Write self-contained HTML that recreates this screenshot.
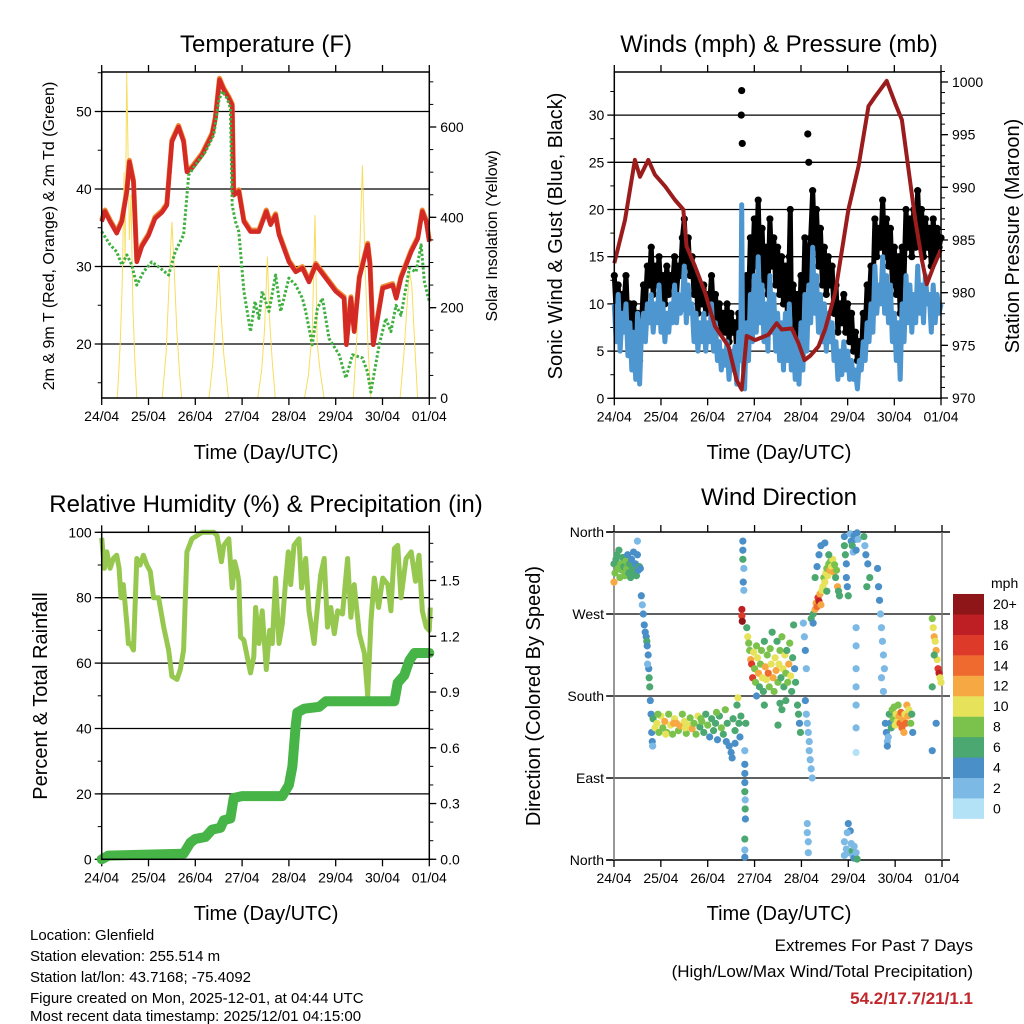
<!DOCTYPE html>
<html><head><meta charset="utf-8"><style>
html,body{margin:0;padding:0;background:#fff;}
svg{display:block;font-family:"Liberation Sans",Arial,sans-serif;}
</style></head><body>
<svg id="chart" width="1024" height="1024" viewBox="0 0 1024 1024" xmlns="http://www.w3.org/2000/svg">
<rect width="1024" height="1024" fill="#fff"/>
<text x="266" y="52" font-size="24" text-anchor="middle">Temperature (F)</text>
<text x="779" y="52" font-size="24" text-anchor="middle">Winds (mph) &amp; Pressure (mb)</text>
<text x="266" y="512" font-size="24" text-anchor="middle">Relative Humidity (%) &amp; Precipitation (in)</text>
<text x="779" y="505" font-size="24" text-anchor="middle">Wind Direction</text>
<text x="266" y="459" font-size="20" text-anchor="middle">Time (Day/UTC)</text>
<text x="779" y="459" font-size="20" text-anchor="middle">Time (Day/UTC)</text>
<text x="266" y="920" font-size="20" text-anchor="middle">Time (Day/UTC)</text>
<text x="779" y="920" font-size="20" text-anchor="middle">Time (Day/UTC)</text>
<text transform="translate(54,236) rotate(-90)" font-size="16" text-anchor="middle">2m &amp; 9m T (Red, Orange) &amp; 2m Td (Green)</text>
<text transform="translate(497,236) rotate(-90)" font-size="16" text-anchor="middle">Solar Insolation (Yellow)</text>
<text transform="translate(562,236) rotate(-90)" font-size="20" text-anchor="middle">Sonic Wind &amp; Gust (Blue, Black)</text>
<text transform="translate(1019,236) rotate(-90)" font-size="20" text-anchor="middle">Station Pressure (Maroon)</text>
<text transform="translate(47,696) rotate(-90)" font-size="20" text-anchor="middle">Percent &amp; Total Rainfall</text>
<text transform="translate(540,696) rotate(-90)" font-size="20" text-anchor="middle">Direction (Colored By Speed)</text>
<g font-size="15">
<text x="30" y="940">Location: Glenfield</text>
<text x="30" y="961">Station elevation: 255.514 m</text>
<text x="30" y="982">Station lat/lon: 43.7168; -75.4092</text>
<text x="30" y="1003">Figure created on Mon, 2025-12-01, at 04:44 UTC</text>
<text x="30" y="1024" dy="-3">Most recent data timestamp: 2025/12/01 04:15:00</text>
</g>
<g font-size="17" text-anchor="end">
<text x="973" y="951">Extremes For Past 7 Days</text>
<text x="973" y="977">(High/Low/Max Wind/Total Precipitation)</text>
<text x="973" y="1004" fill="#c0282d" font-weight="bold">54.2/17.7/21/1.1</text>
</g>
<g id="layer"></g>
</svg>
<script>
const dayLabels=["24/04","25/04","26/04","27/04","28/04","29/04","30/04","01/04"];
const tempRed=[[0,35.8],[1.7,37.1],[4.3,35.8],[7.7,34.3],[10.3,35.8],[12.9,39.7],[14.2,43.5],[16.3,40.9],[18,30.6],[20.6,32.6],[24,34],[27.4,36.2],[30.9,37],[33.4,37.9],[36,46.1],[39.4,48],[42,46.1],[43.7,42.2],[46.3,42.7],[51.5,44.4],[56.6,47],[58.3,49.1],[60.4,54.1],[62.6,52.8],[65.2,51.7],[66.9,50.8],[67.7,39.2],[70.3,39.7],[72.9,35.8],[76.3,34.5],[80.6,34.5],[84.4,37.1],[86.6,35.4],[89.2,36.6],[90.9,34.1],[96,30.6],[99.5,29.3],[102.9,29.8],[106.3,28],[109.8,30.2],[114.9,28.5],[120,26.8],[124.3,25.9],[125.5,19.9],[127.8,25.9],[129.5,21.6],[132.1,28.5],[136.4,32.8],[137.6,30.2],[139.3,19.9],[141.5,23.3],[144.1,27.2],[149.2,27.6],[151,25.9],[153.5,28.5],[158.7,31.9],[162.1,33.6],[164.4,37.1],[166.4,35.8],[168,33.2]];
const tempDew=[[0,34.5],[4.3,32.8],[7.7,31.9],[10.3,30.2],[12.9,31.5],[15.4,30.2],[18,27.6],[21.4,29.3],[25.7,30.6],[30,29.8],[34.3,28.9],[37.7,31.9],[42,34.1],[44.6,41.8],[48,43.1],[53.2,44.8],[57.5,47],[60,51.3],[61.7,52.6],[64.3,51.7],[66,50.4],[66.9,37.9],[68.6,35.8],[70.3,34.5],[72.9,26.8],[76.3,21.6],[78.6,25.5],[80.6,23.3],[82.3,26.8],[85.8,24.2],[89.2,28.9],[91.8,24.2],[96,28.5],[99.5,27.6],[102.9,25.9],[104.6,24.2],[108,19.9],[110.6,24.6],[113.2,25.9],[116.6,20.7],[121.8,18.6],[125.2,15.6],[128.6,18.6],[133.7,18.2],[136.3,16.4],[138,13.8],[142.3,19.9],[145.7,23.3],[148.3,21.6],[150.9,25],[153.5,23.7],[157.8,29.8],[161.2,29.3],[163.8,32.8],[165.5,28],[168,25.5]];
const solar=[[0,0],[8,0],[9.5,120],[10.5,250],[11.5,500],[12,300],[12.8,720],[13.5,550],[14.2,350],[15,450],[16,200],[17,80],[18,0],[31,0],[33,100],[34.5,250],[36,390],[37,300],[38.5,150],[40,50],[41,0],[55,0],[57,80],[58.5,180],[60,294],[61,200],[62.5,100],[64,40],[65,0],[80,0],[82,60],[83.5,150],[85,313],[86,180],[87.5,80],[89,0],[104,0],[106,50],[108,150],[109.4,405],[110.5,120],[112,60],[114,0],[129,0],[131,150],[132.5,350],[133.7,515],[135,300],[136.5,120],[138,0],[153,0],[155,100],[156.5,200],[157.8,280],[159,250],[160.5,120],[162,0],[168,0]];
const pressure=[[0,982.8],[5.5,986.9],[10.6,992.6],[13.2,991],[17.5,992.6],[20.9,991.2],[26.1,990.1],[31.2,988.8],[35.5,987.9],[37.2,984.4],[41.5,982.5],[46.7,980],[51.8,976.8],[58.7,974.9],[62.9,971.7],[65.5,970.8],[68.1,975.9],[72.4,975.5],[79.2,976],[83.5,977.1],[86.1,976.5],[91.3,976.6],[94.7,975.2],[97.8,973.6],[100.7,974],[105,974.9],[108.4,976.5],[113.6,980],[120.4,987.9],[125.6,992],[130.7,997.7],[134.1,998.6],[140.1,1000.1],[144.4,998],[147.9,996.4],[151.3,991.7],[154.8,986.9],[158.2,983.1],[160.7,980.8],[164.2,982.5],[168,984.1]];
const sonicWind=[10,6,11,5,9,7,10,4.5,8,3,7,2,9,1.5,7,9,6,10,8,11,7,10,8,12,7,10,6,9,7,10,8,12,8,11,9,10,14,8,12,9,10,6,9,5,8,6,9,5,8,6,10,5,8,4,6,3,5,3.5,6,2,5,3,5.5,1.5,7,4,5,1,8,4,11,6,13,7,15,8,12,6,10,5,13,7,11,5,9,4,8,3,9,4,10,3,7,2,6,1.5,8,3,11,5,12,8,16,9,13,7,11,6,10,5,9,6,8,4,6,2,5,2.5,6,3,5,2,4,2,3,1,4,3,6,4,8,6,10,7,14,9,12,10,15,9,13,8,12,6,9,4,8,2,10,6,13,8,12,7,11,8,14,9,12,8,13,10,11,7,12,8,11,9,10];
const sonicSpike=[[65.5,20.5]];
const gust=[[0,13],[1,9],[2,12],[3,8],[4,11],[5,10],[6,13],[7,8],[8,10],[9,7],[10,10],[11,6],[12,9],[13,4],[14,8],[15,12],[16,10],[17,14],[18,12],[19,16],[20,11],[21,14],[22,12],[23,15],[24,11],[25,13],[26,10],[27,14],[28,11],[29,13],[30,12],[31,15],[32,11],[33,14],[34,13],[35,17],[36,19],[37,14],[38,17],[39,13],[40,15],[41,11],[42,13],[43,9],[44,12],[45,10],[46,12],[47,9],[48,11],[49,10],[50,13],[51,9],[52,11],[53,8],[54,10],[55,7],[56,9],[57,7],[58,10],[59,6],[60,9],[61,7],[62,8],[63,5],[64,9],[65,8],[65.3,30],[65.5,32.6],[65.8,27],[66,8],[67,6],[68,13],[69,10],[70,17],[71,13],[72,19],[73,14],[74,21],[75,13],[76,18],[77,12],[78,16],[79,11],[80,19],[81,14],[82,17],[83,12],[84,16],[85,11],[86,15],[87,10],[88,14],[89,9],[90,15],[90.5,20],[91,10],[92,12],[93,7],[94,11],[95,6],[96,13],[97,8],[98,17],[99,12],[99.5,28],[100,25],[101,17],[102,22],[103,16],[104,20],[105,14],[106,18],[107,12],[108,16],[109,11],[110,15],[111,12],[112,14],[113,9],[114,12],[115,7],[116,10],[117,8],[118,11],[119,7],[120,10],[121,6],[122,9],[123,5],[124,7],[125,4],[126,6],[127,4],[128,9],[129,7],[130,12],[131,10],[132,14],[133,11],[134,19],[135,15],[136,18],[137,16],[138,21],[139,15],[140,19],[141,14],[142,18],[143,12],[144,16],[145,11],[146,15],[147,9],[148,16],[149,13],[150,20],[151,16],[152,19],[153,15],[154,20],[155,16],[156,22],[157,17],[158,20],[159,15],[160,19],[161,16],[162,18],[163,14],[164,19],[165,15],[166,18],[167,16],[168,17]];
const humidity=[[0,98.3],[1.4,89],[2.6,94],[4.3,89],[6,92],[7.7,93],[8.9,89],[9.9,80],[11.1,84],[12.9,72],[13.7,66],[14.6,66],[16.3,64],[18,92],[19.7,90],[21.4,93],[23.2,90],[24.9,88],[26.6,80],[29.2,80],[31.8,71],[34.3,64],[36,56],[38.6,55],[40.3,58],[42,64],[43.7,94],[46.3,98],[51.5,100],[57.5,100],[59.2,99],[61.4,91],[62.6,96],[65.2,98],[66.9,83],[68.2,91],[69.5,88],[70.3,85],[71.2,68],[72.9,67],[74.6,62],[76.3,57],[78,62],[78.9,77],[80.6,66],[82.3,76],[84.4,58],[86.1,70],[87.5,66],[89.2,86],[90.9,66],[92.6,72],[94.3,85],[95.7,94],[96.9,84],[98.6,96],[101.2,98],[102.5,83],[104.6,92],[106.3,76],[108.9,66],[110.6,77],[112.3,87],[114.1,92],[115.8,71],[117.5,77],[119.3,69],[121,76],[123.5,75],[126.1,92],[127.8,74],[129.5,84],[132.1,69],[134.7,63],[136.4,50],[138.1,73],[139.8,86],[142,77],[144.1,86],[146.7,84],[148.3,76],[150.1,95],[151.8,96],[153.5,80],[156.1,92],[158.7,94],[160.9,85],[162.7,93],[164.4,76],[166.4,71],[168,70],[168.5,77]];
const rainfall=[[0,0],[3.4,0.02],[42,0.03],[45.5,0.09],[48,0.11],[53.2,0.12],[56.6,0.16],[60.9,0.17],[62.6,0.21],[66,0.22],[67.7,0.33],[72,0.34],[92.6,0.34],[96,0.40],[97.8,0.50],[99.5,0.72],[100.3,0.79],[103.8,0.81],[111.5,0.82],[114.9,0.85],[123.5,0.85],[150.1,0.85],[151.8,0.95],[155.2,0.99],[157.8,1.07],[160.4,1.11],[168,1.11]];
const dirObs=[[0,325,7],[0.5,315,9],[1,330,7],[0,305,13],[1.5,335,6],[2,320,8],[2.5,340,7],[3,310,9],[3.5,325,8],[4,318,9],[4.5,332,7],[5,322,7],[5.5,312,8],[6,328,8],[6.5,320,9],[7,335,5],[7.5,315,7],[8,325,6],[8.5,310,7],[9,330,5],[9.5,320,7],[10,338,5],[10.5,316,7],[11,325,5],[11.5,312,6],[12,335,5],[12.5,318,5],[13,322,6],[13.5,320,5],[12,350,3],
[14,290,5],[14.5,280,3],[15,270,5],[15.5,258,5],[16,250,5],[16.5,245,5],[16.8,240,6],[17,235,5],[17.5,225,5],[17.8,210,5],[18,200,6],[18.3,190,6],[18.6,175,5],[19,160,5],[19.3,140,5],[19.6,130,4],[19.8,125,3],[17.2,215,3],
[20,155,6],[21,145,10],[22,150,11],[23,140,9],[24,158,10],[25,145,8],[26,152,12],[27,140,9],[28,160,8],[29,148,11],[30,138,8],[31,155,10],[32,150,12],[33,142,9],[34,147,13],[35,160,8],[36,152,10],[37,139,9],[38,148,11],[39,156,9],[40,144,12],[41,150,8],[42,138,9],[43,158,10],[44,146,7],[45,152,8],[46,140,6],[47,160,7],[48,148,8],[49,135,5],[50,155,7],[51,142,6],[52,150,7],[53,132,5],[54,158,6],[55,145,8],[56,138,6],[57,165,9],[58,150,7],[59,125,5],[60,118,4],[61,155,7],[62,142,6],[63,170,7],[63.5,178,10],[64,150,6],[64.5,135,5],[65,158,6],[62,128,4],[60.5,112,4],[57.5,130,5],[22.5,160,9],[26.5,138,10],[30.5,150,13],[36.5,145,11],[44.5,155,9],[52.5,162,8],
[65.5,275,19],[65.5,268,17],[65.7,262,20],[66,350,4],[66,340,4],[66,330,6],[66.2,305,4],[66.5,320,3],[66.5,296,3],[67,85,4],[67,75,6],[67.2,66,2],[67.2,56,6],[67.3,45,4],[67,23,6],[67,11,2],[67,3,4],[67.5,150,7],[67,120,2],[67,105,4],[67,95,4],
[68,255,7],[68.5,245,10],[69,238,8],[69.5,230,9],[70,220,12],[70.5,215,16],[71,200,17],[71.5,228,11],[72,210,9],[72.5,195,8],[73,235,8],[73.5,222,10],[74,205,12],[74.5,190,7],[75,215,9],[75.5,230,8],[76,200,11],[76.5,185,6],[77,240,7],[77.5,212,13],[78,198,10],[78.5,225,8],[79,205,14],[79.5,190,9],[80,232,9],[80.5,215,11],[81,250,6],[81.5,200,12],[82,185,8],[82.5,222,10],[83,208,13],[83.5,240,7],[84,195,9],[84.5,215,11],[85,230,8],[85.5,200,7],[86,245,8],[86.5,210,10],[87,190,6],[87.5,225,11],[88,205,9],[88.5,230,7],[89,195,8],[89.5,215,12],[90,238,8],[90.5,202,10],[91,185,7],[91.5,222,6],[92,258,7],[92.5,210,5],[93,195,6],[94,170,6],[94.5,160,7],[95,150,5],[95.5,140,7],[86,165,6],[84,148,6],[85,172,7],[88,175,7],[77,170,6],[73,180,4],
[97,260,3],[97.5,245,3],[98,230,4],[98.5,210,3],[98,175,4],[98.5,160,2],[99,150,3],[99.5,140,2],[100,130,3],[100,120,3],[100.5,110,2],[101,100,2],[101.5,90,2],[99,40,3],[99,30,3],[99.5,20,2],[99.5,8,3],
[101,265,6],[102,270,7],[103,275,12],[103.5,282,13],[104,278,14],[104.5,288,16],[105,284,18],[105.5,292,13],[106,280,12],[106.5,296,10],[107,300,11],[107.5,310,8],[108,305,10],[108.5,315,11],[109,320,9],[109.5,312,10],[110,325,8],[110.5,318,12],[111,328,9],[111.5,322,11],[112,330,10],[112.5,316,12],[113,324,8],[113.5,310,7],[114,318,8],[114.5,300,13],[115,295,7],[115.5,290,7],[110,335,7],[108,348,4],[106,345,4],[105,335,5],[104,322,4],[103,310,7],[109,295,6],[102,260,5],
[118,355,4],[118,345,6],[118.5,335,6],[119,325,5],[119,310,4],[119.5,300,5],[120,290,6],[121,358,3],[121.5,350,4],[122,345,6],[122.5,338,3],[123,356,4],[123.5,352,5],[124,340,4],[124.5,359,4],[125,352,3],[118,20,2],[118,5,3],[119,12,2],[120,8,3],[120,40,4],[121,32,4],[121.5,18,3],[122,10,6],[122.5,4,2],[123,15,3],[123,2,4],[124,8,3],[124.5,1,6],[119.5,30,3],
[124,255,3],[124,235,3],[124,210,3],[124,190,2],[124,170,2],[124,145,2],[124,118,1],
[128,355,6],[128.5,345,3],[129,335,4],[130,325,5],[131,310,6],[129.5,300,6],
[135,320,4],[135.5,300,4],[136,285,4],[136.5,270,3],[137,255,3],[137.5,240,3],[138,225,2],[138.5,210,2],[137,200,3],[138,185,2],
[139,150,4],[139.5,140,4],[140,130,3],[140,125,4],[141,160,6],[141.5,150,4],[142,145,7],[142.5,165,8],[143,155,9],[143.5,168,8],[144,148,10],[144.5,160,11],[145,152,10],[145.5,170,9],[146,158,13],[146.5,150,14],[147,162,15],[147.5,145,14],[148,155,12],[148.5,140,13],[149,160,11],[149.5,150,14],[150,170,12],[150.5,158,13],[151,165,10],[152,150,8],[152.5,160,7],[153,140,5],[140.5,135,3],
[163,265,8],[163.5,255,10],[164,245,12],[164.5,240,11],[165,230,12],[165.5,220,10],[166,210,16],[166.5,205,18],[167,200,10],[167.5,195,11],[164,225,6],[163,190,7],[163,120,4],[165,150,4]];
const speedColors=["#b3e2f7","#7cb9e4","#4a8fc7","#4aa870","#7bc24d","#e6e25a","#f6a843","#ef6a2e","#dd3a2a","#bd1f25","#8e1619"];
const speedLabels=["0","2","4","6","8","10","12","14","16","18","20+"];
const dirLabels=["North","East","South","West","North"];

const NS="http://www.w3.org/2000/svg";
const layer=document.getElementById("layer");
function mk(tag,attrs,parent){const e=document.createElementNS(NS,tag);for(const k in attrs)e.setAttribute(k,attrs[k]);(parent||layer).appendChild(e);return e;}
function lin(d0,d1,r0,r1){return v=>r0+(v-d0)/(d1-d0)*(r1-r0);}
function pathOf(pts,fx,fy){return pts.map((p,i)=>(i?"L":"M")+fx(p[0]).toFixed(1)+","+fy(p[1]).toFixed(1)).join("");}

function panel(name,x0,x1,y0,y1,yL,leftT,leftMinor,fmtL,grid){
  const g=mk("g",{});
  
  
  const fx=lin(0,168,x0,x1);
  if(grid){leftT.forEach(v=>{const y=yL(v);if(y>y0+1&&y<y1-1){const l=mk("line",{x1:x0,x2:x1,y1:y,y2:y,stroke:"#000","stroke-width":1.3},g);}});}
  leftMinor.forEach(v=>{const y=yL(v);mk("line",{x1:x0-4,x2:x0,y1:y,y2:y,stroke:"#000","stroke-width":1},g);});
  leftT.forEach((v,i)=>{const y=yL(v);mk("line",{x1:x0-7,x2:x0,y1:y,y2:y,stroke:"#000","stroke-width":1.3},g);
    const t=mk("text",{x:x0-10,y:y+5,"font-size":14,"text-anchor":"end"},g);t.textContent=fmtL(v,i);
    });
  dayLabels.forEach((d,i)=>{const x=fx(i*24);
    mk("line",{x1:x,x2:x,y1:y1,y2:y1+7,stroke:"#000","stroke-width":1.3},g);
    mk("line",{x1:x,x2:x,y1:y0,y2:y0-7,stroke:"#000","stroke-width":1.3},g);
    const t=mk("text",{x:x,y:y1+23,"font-size":14,"text-anchor":"middle"},g);t.textContent=d;
    });
  return {fx,g};
}
function frame(x0,x1,y0,y1){const r=mk("rect",{x:x0,y:y0,width:x1-x0,height:y1-y0,fill:"none",stroke:"#000","stroke-width":1.5});}
function rightAxis(x1,yR,major,minor,fmt){
  const g=mk("g",{});
  
  
  minor.forEach(v=>{const y=yR(v);mk("line",{x1:x1,x2:x1+4,y1:y,y2:y,stroke:"#000","stroke-width":1},g);});
  major.forEach(v=>{const y=yR(v);mk("line",{x1:x1,x2:x1+7,y1:y,y2:y,stroke:"#000","stroke-width":1.3},g);
    const t=mk("text",{x:x1+11,y:y+5,"font-size":14},g);t.textContent=fmt(v);
    });
}
function rng(a,b,s){const o=[];for(let v=a;v<=b+1e-9;v+=s)o.push(+v.toFixed(3));return o;}

// Panel 1: Temperature
{
 const x0=101.7,x1=429.3,y0=72,y1=398;
 const yT=lin(20,30,344,266.5), yS=lin(0,600,398,127);
 const P=panel("temperature",x0,x1,y0,y1,yT,[20,30,40,50],rng(15,55,5),v=>v,true);
 const fx=P.fx;
 const s=mk("path",{d:pathOf(solar,fx,yS),fill:"none",stroke:"#f7dd5e","stroke-width":1});
 
 const o=mk("path",{d:pathOf(tempRed,fx,v=>yT(v)-1.5),fill:"none",stroke:"#f08a30","stroke-width":5,"stroke-linejoin":"round"});
 
 const r=mk("path",{d:pathOf(tempRed,fx,yT),fill:"none",stroke:"#d42a26","stroke-width":4.5,"stroke-linejoin":"round"});
 
 const d=mk("path",{d:pathOf(tempDew,fx,yT),fill:"none",stroke:"#3fb03f","stroke-width":3,"stroke-dasharray":"2.5 2","stroke-linejoin":"round"});
 
 frame(x0,x1,y0,y1);
 rightAxis(x1,yS,[0,200,400,600],rng(0,700,50),v=>v);
}
// Panel 2: Winds
{
 const x0=614.3,x1=941,y0=72,y1=398.3;
 const yW=lin(0,30,398.3,115.1), yP=lin(970,1000,398,82);
 const P=panel("winds",x0,x1,y0,y1,yW,[0,5,10,15,20,25,30],rng(0,32.5,2.5),v=>v,true);
 const fx=P.fx;
 const gp=mk("path",{d:pathOf(gust.filter(p=>p[1]<24),fx,yW),fill:"none",stroke:"#000","stroke-width":5,"stroke-linejoin":"round"});
 
 gust.forEach(p=>{const c=mk("circle",{cx:fx(p[0]),cy:yW(p[1]),r:3.6,fill:"#000"});
   });
 const sw=sonicWind.map((w,i)=>[i,w]).concat(sonicSpike).sort((a,b)=>a[0]-b[0]);
 const b=mk("path",{d:pathOf(sw,fx,yW),fill:"none",stroke:"#4e96d0","stroke-width":5,"stroke-linejoin":"round"});
 
 const p=mk("path",{d:pathOf(pressure,fx,yP),fill:"none",stroke:"#9b1c1c","stroke-width":4,"stroke-linejoin":"round"});
 
 frame(x0,x1,y0,y1);
 rightAxis(x1,yP,[970,975,980,985,990,995,1000],rng(970,1001,1),v=>v);
}
// Panel 3: Humidity
{
 const x0=101.7,x1=429.3,y0=532.3,y1=859.3;
 const yH=lin(0,100,859.3,532.3), yR=lin(0,1.5,859.3,580.5);
 const P=panel("humidity",x0,x1,y0,y1,yH,[0,20,40,60,80,100],rng(0,100,10),v=>v,true);
 const fx=P.fx;
 const h=mk("path",{d:pathOf(humidity,fx,yH),fill:"none",stroke:"#96c84f","stroke-width":5,"stroke-linejoin":"round"});
 
 const r=mk("path",{d:pathOf(rainfall,fx,yR),fill:"none",stroke:"#46b446","stroke-width":10,"stroke-linejoin":"round","stroke-linecap":"round"});
 
 frame(x0,x1,y0,y1);
 rightAxis(x1,yR,[0,0.3,0.6,0.9,1.2,1.5],rng(0,1.7,0.1),v=>v.toFixed(1));
}
// Panel 4: Wind direction
{
 const x0=614,x1=942,y0=532,y1=860;
 const yD=lin(0,360,860,532);
 const P=panel("wind-direction",x0,x1,y0,y1,yD,[0,90,180,270,360],[],(v,i)=>dirLabels[i],false);
 const fx=P.fx;
 [90,180,270].forEach(v=>{const l=mk("line",{x1:606,x2:950,y1:yD(v),y2:yD(v),stroke:"#000","stroke-width":1.3});});
 [0,360].forEach(v=>{mk("line",{x1:606,x2:950,y1:yD(v),y2:yD(v),stroke:"#000","stroke-width":1.5});});
 mk("line",{x1:x0,x2:x0,y1:y0,y2:y1,stroke:"#777","stroke-width":1.5});
 mk("line",{x1:x1,x2:x1,y1:y0,y2:y1,stroke:"#777","stroke-width":1.5});
 dirObs.forEach(o=>{const bin=Math.min(10,Math.floor(o[2]/2));
   const c=mk("circle",{cx:fx(o[0]),cy:yD(o[1]),r:3.6,fill:speedColors[bin]});
   });
 const lg=mk("g",{});
 
 
 const t=mk("text",{x:991,y:588,"font-size":14},lg);t.textContent="mph";
 speedColors.forEach((c,i)=>{const y=818.7-(i+1)*20.43;
   const r=mk("rect",{x:953,y:y,width:31,height:20.6,fill:c},lg);
   
   const l=mk("text",{x:993,y:y+15,"font-size":14},lg);l.textContent=speedLabels[i];
   });
}
</script>
</body></html>
